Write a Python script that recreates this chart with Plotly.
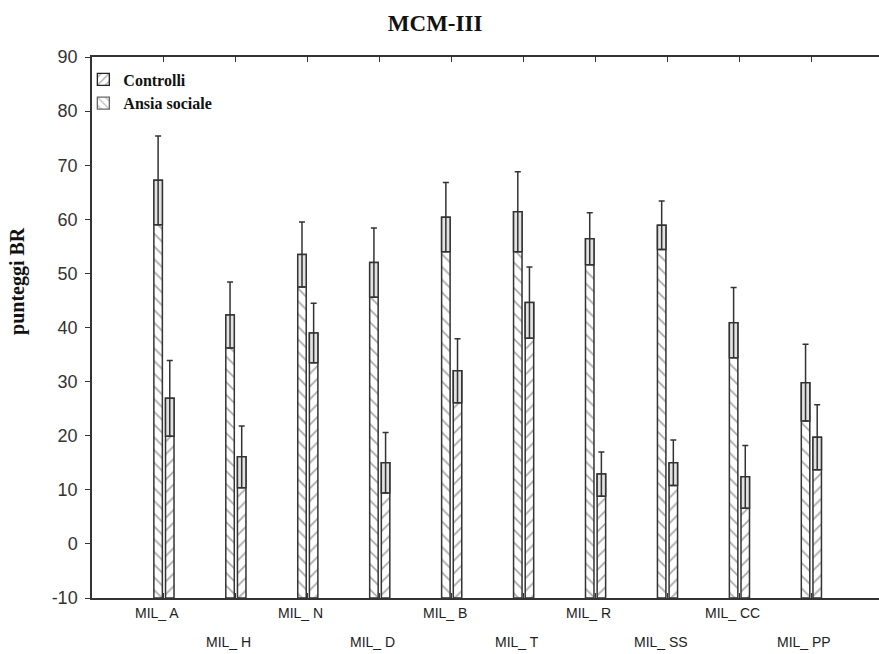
import plotly.graph_objects as go

categories = ["MIL_ A", "MIL_ H", "MIL_ N", "MIL_ D", "MIL_ B",
              "MIL_ T", "MIL_ R", "MIL_ SS", "MIL_ CC", "MIL_ PP"]
controlli = [67.2, 42.3, 53.5, 52.0, 60.4, 61.4, 56.4, 58.9, 40.9, 29.8]
controlli_err = [8.2, 6.1, 6.0, 6.4, 6.4, 7.4, 4.8, 4.5, 6.5, 7.1]
ansia = [26.9, 16.1, 39.0, 15.0, 32.0, 44.6, 12.9, 15.0, 12.4, 19.7]
ansia_err = [7.0, 5.7, 5.5, 5.6, 5.9, 6.6, 4.1, 4.2, 5.8, 6.0]
y_ticks = [-10, 0, 10, 20, 30, 40, 50, 60, 70, 80, 90]
y_ticktext = [str(v) for v in y_ticks]

AXIS_MIN = -10
BAR_W = 0.118
OFFS = {"c": -0.14, "a": 0.022}
LINE = "#333333"
SERIF = "Liberation Serif, Times New Roman, serif"
SANS = "Liberation Sans, Arial, sans-serif"

fig = go.Figure()


def add_series(vals, errs, key, shape):
    # main bar from axis bottom to value
    fig.add_trace(go.Bar(
        x=categories, y=[v - AXIS_MIN for v in vals], base=AXIS_MIN,
        width=BAR_W, offset=OFFS[key], showlegend=False,
        marker=dict(color="white", line=dict(color=LINE, width=1.5),
                    pattern=dict(shape=shape, size=9, solidity=0.2,
                                 fgcolor="#555555", bgcolor="white")),
    ))
    # inner box (mean - err .. mean) with whisker
    fig.add_trace(go.Bar(
        x=categories, y=errs, base=[v - e for v, e in zip(vals, errs)],
        width=BAR_W, offset=OFFS[key], showlegend=False,
        marker=dict(color="#e2e2e2", line=dict(color=LINE, width=1.5)),
        error_y=dict(type="data", array=errs, visible=True,
                     color="#333333", thickness=1.5, width=3),
    ))


add_series(controlli, controlli_err, "c", "\\")
add_series(ansia, ansia_err, "a", "/")

# legend entries
fig.add_trace(go.Bar(x=[None], y=[None], name="<b>Controlli</b>",
                     marker=dict(color="white", line=dict(color="#222", width=1.3),
                                 pattern=dict(shape="/", size=7, solidity=0.2,
                                              fgcolor="#222", bgcolor="white"))))
fig.add_trace(go.Bar(x=[None], y=[None], name="<b>Ansia sociale</b>",
                     marker=dict(color="white", line=dict(color="#666", width=1.3),
                                 pattern=dict(shape="\\", size=7, solidity=0.2,
                                              fgcolor="#666", bgcolor="white"))))

# staggered category labels
for i, c in enumerate(categories):
    fig.add_annotation(x=c, y=0, xref="x", yref="paper", text=c,
                       showarrow=False, yanchor="top", xshift=-7,
                       yshift=-5 if i % 2 == 0 else -34,
                       font=dict(family=SANS, size=14, color="#222"))

# y axis title
fig.add_annotation(x=0, y=0.586, xref="paper", yref="paper",
                   text="<b>punteggi BR</b>", textangle=-90, showarrow=False,
                   xanchor="center", yanchor="middle", xshift=-74,
                   font=dict(family=SERIF, size=20, color="#111"))

fig.update_layout(
    width=879, height=654,
    margin=dict(l=92, r=0, t=57, b=56),
    paper_bgcolor="white", plot_bgcolor="white",
    barmode="overlay",
    title=dict(text="<b>MCM-III</b>", x=0.495, xref="container", xanchor="center",
               y=0.965, yanchor="middle",
               font=dict(family=SERIF, size=23, color="#111")),
    legend=dict(x=-0.011, y=0.99, xanchor="left", yanchor="top",
                bgcolor="rgba(0,0,0,0)", tracegroupgap=0,
                font=dict(family=SERIF, size=16, color="#111")),
    font=dict(family=SANS),
    showlegend=True,
)
fig.update_xaxes(type="category", range=[-1, 9.94], showgrid=False,
                 showline=True, linecolor="#333", linewidth=1.5,
                 mirror="ticks", ticks="inside", ticklen=5, tickcolor="#333",
                 showticklabels=False, zeroline=False)
fig.update_yaxes(range=[-10, 90], tickvals=y_ticks, ticktext=y_ticktext,
                 showgrid=False,
                 showline=True, linecolor="#333", linewidth=1.5,
                 ticks="outside", ticklen=5, tickcolor="#333",
                 ticklabelstandoff=4,
                 tickfont=dict(family=SANS, size=18, color="#333"),
                 zeroline=False)

fig.write_html("out.html", config={"displayModeBar": False},
               post_script="document.body.style.margin='0px';")
